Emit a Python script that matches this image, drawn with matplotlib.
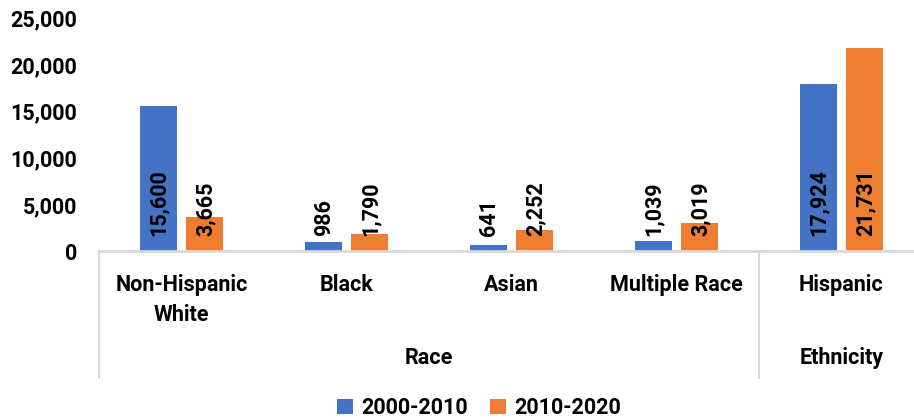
import matplotlib
matplotlib.use("Agg")
import matplotlib.pyplot as plt
from matplotlib.patches import Patch
from matplotlib.lines import Line2D
import matplotlib.transforms as mtransforms

categories = ["Non-Hispanic\nWhite", "Black", "Asian", "Multiple Race", "Hispanic"]
groups = ["Race", "Ethnicity"]
group_sizes = [4, 1]
series_names = ["2000-2010", "2010-2020"]
values_2000_2010 = [15600, 986, 641, 1039, 17924]
values_2010_2020 = [3665, 1790, 2252, 3019, 21731]
yticks = [0, 5000, 10000, 15000, 20000, 25000]

BLUE = "#4472C4"
ORANGE = "#ED7D31"
GRID = "#D9D9D9"
FONT = ["Roboto", "DejaVu Sans"]
plt.rcParams["font.family"] = FONT
plt.rcParams["font.weight"] = "bold"
FS = 15.5

W, H = 914, 420
fig = plt.figure(figsize=(W / 100, H / 100), dpi=100)

def fy(px_from_top):
    return (H - px_from_top) / H

left, right = 99 / W, 924 / W
bottom, top = fy(251), fy(18)
ax = fig.add_axes([left, bottom, right - left, top - bottom])

n = len(categories)
x = list(range(n))
bw = 0.224
off = 0.142
b1 = ax.bar([i - off for i in x], values_2000_2010, bw, color=BLUE, zorder=2)
b2 = ax.bar([i + off for i in x], values_2010_2020, bw, color=ORANGE, zorder=2)

for bars, vals in ((b1, values_2000_2010), (b2, values_2010_2020)):
    for rect, v in zip(bars, vals):
        ax.annotate(f"{v:,}", xy=(rect.get_x() + rect.get_width() / 2, 0),
                    xytext=(1, 15), textcoords="offset pixels",
                    ha="center", va="bottom", rotation=90,
                    fontsize=FS, fontweight="bold", color="black", zorder=3)

ax.set_xlim(-0.5, n - 0.5)
ax.set_ylim(0, 25000)
ax.set_yticks(yticks)
ax.set_yticklabels([f"{t:,}" for t in yticks], fontsize=FS, fontweight="bold")
ax.tick_params(axis="y", length=0, pad=16)
ax.set_xticks([])
for s in ["left", "right", "top"]:
    ax.spines[s].set_visible(False)
ax.spines["bottom"].set_color(GRID)
ax.spines["bottom"].set_linewidth(2)

# multi-level category axis
trans = mtransforms.blended_transform_factory(ax.transData, fig.transFigure)
for i, c in enumerate(categories):
    ax.text(i, fy(274), c, transform=trans, ha="center", va="top",
            fontsize=FS, fontweight="bold", linespacing=1.45)

start = 0
bounds = [-0.5]
for g, sz in zip(groups, group_sizes):
    center = start + (sz - 1) / 2
    ax.text(center, fy(358), g, transform=trans, ha="center", va="center",
            fontsize=FS, fontweight="bold")
    start += sz
    bounds.append(start - 0.5)
for b in bounds:
    fig.add_artist(Line2D([b, b], [fy(251), fy(378)], transform=trans,
                          color=GRID, linewidth=1.5))

handles = [Patch(facecolor=BLUE), Patch(facecolor=ORANGE)]
fig.legend(handles, series_names, loc="center", bbox_to_anchor=(479 / W, fy(408)),
           ncol=2, frameon=False, handlelength=0.75, handleheight=0.75,
           handletextpad=0.4, columnspacing=1.0,
           prop={"size": FS, "weight": "bold", "family": FONT})

fig.savefig("out.png", dpi=100)
